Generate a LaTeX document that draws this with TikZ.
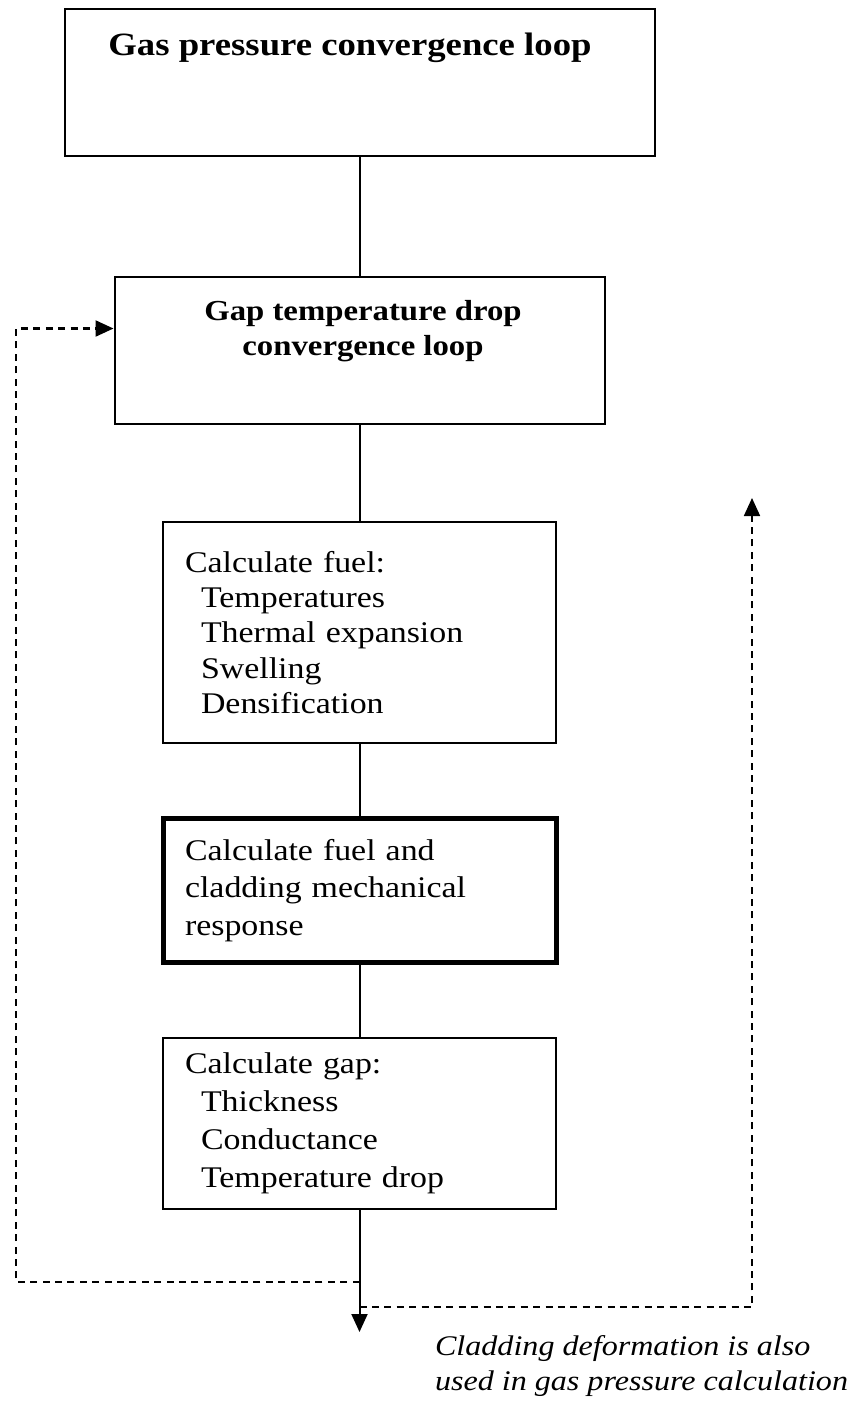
\documentclass[tikz,border=0pt]{standalone}
\usepackage{fontspec}
\setmainfont{Liberation Serif}[FakeStretch=1.13]
\usetikzlibrary{arrows.meta}
\begin{document}
\begin{tikzpicture}[x=0.5pt, y=-0.5pt, >={Triangle[length=9pt,width=8pt]},
	box/.style={draw, line width=1pt, inner sep=0pt},
	calcbox/.style={box, minimum width=196.5pt, text width=174.5pt, inner xsep=11pt, align=left},
	feedback/.style={line width=1.1pt, dash pattern=on 3.5pt off 2.7pt}]
	\useasboundingbox (0,0) rectangle (857,1404);
	% loops
	\node[box, minimum width=295pt, minimum height=73.5pt] (gasloop) at (359.5,82.5) {};
	\node[anchor=base, font=\fontsize{16.25}{19}\selectfont\bfseries] (gastitle) at (350,55) {Gas pressure convergence loop};
	\node[box, minimum width=245pt, minimum height=73.5pt] (gaploop) at (359.5,350.5) {};
	\node[anchor=base, align=center, font=\fontsize{14.5}{17.5}\selectfont\bfseries] (gaptitle) at (363,355) {Gap temperature drop\\convergence loop};
	% calculation steps
	\node[calcbox, minimum height=110.5pt, font=\fontsize{15}{17.6}\selectfont] (fuelcalc) at (359.5,632.5)
		{Calculate fuel:\\\hspace*{8pt}Temperatures\\\hspace*{8pt}Thermal expansion\\\hspace*{8pt}Swelling\\\hspace*{8pt}Densification};
	\node[calcbox, line width=2.5pt, minimum width=196pt, minimum height=72pt, font=\fontsize{15}{18.75}\selectfont] (mechcalc) at (359.5,890.5)
		{Calculate fuel and\\cladding mechanical\\response};
	\node[calcbox, minimum height=85.5pt, font=\fontsize{15}{19}\selectfont] (gapcalc) at (359.5,1123.5)
		{Calculate gap:\\\hspace*{8pt}Thickness\\\hspace*{8pt}Conductance\\\hspace*{8pt}Temperature drop};
	\node[anchor=base west, align=left, font=\fontsize{14.2}{17.5}\selectfont\itshape] (note) at (428,1390)
		{Cladding deformation is also\\used in gas pressure calculation};
	% connectors
	\draw[line width=1pt] (gasloop) -- (gaploop) (gaploop) -- (fuelcalc) (fuelcalc) -- (mechcalc) (mechcalc) -- (gapcalc);
	\coordinate (outlet) at (359.5,1332);
	\draw[->, line width=1pt] (gapcalc) -- (outlet);
	\coordinate (leftback) at (359.5,1282);
	\coordinate (rightback) at (359.5,1307);
	\coordinate (leftrail) at (16,0);
	\coordinate (rightrail) at (752,498);
	\draw[feedback, ->] (leftback) -- (leftback -| leftrail) |- ([yshift=11pt]gaploop.west);
	\draw[feedback, line width=0.9pt, ->] (rightback) -| (rightrail);
\end{tikzpicture}
\end{document}
